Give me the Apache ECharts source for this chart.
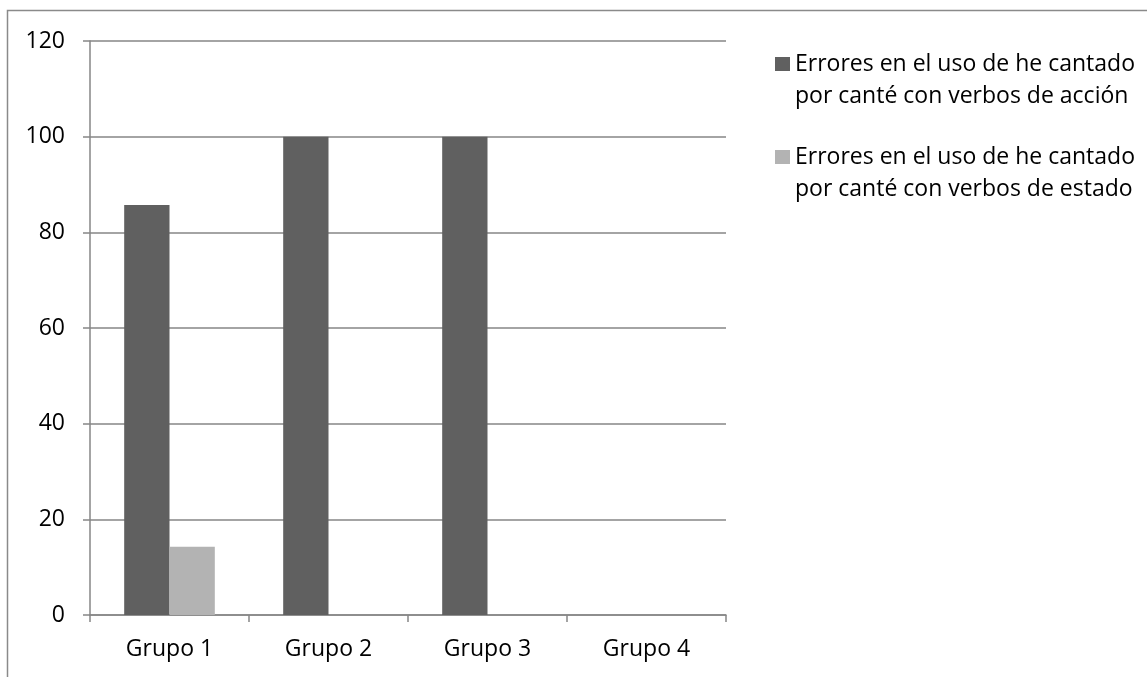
<!DOCTYPE html>
<html>
<head>
<meta charset="utf-8">
<script src="https://cdn.jsdelivr.net/npm/echarts@6/dist/echarts.min.js"></script>
<style>
  html, body { margin: 0; padding: 0; background: #fff; }
  #chart { width: 1147px; height: 677px; }
</style>
</head>
<body>
<div id="chart"></div>
<script>
// Percentage of errors per group
const categories = ['Grupo 1', 'Grupo 2', 'Grupo 3', 'Grupo 4'];
const accionValues = [85.71, 100, 100, 0];
const estadoValues = [14.29, 0, 0, 0];
const seriesNames = [
  'Errores en el uso de he cantado\npor canté con verbos de acción',
  'Errores en el uso de he cantado\npor canté con verbos de estado'
];
const yTicks = { min: 0, max: 120, interval: 20 };

const FONT = '"Open Sans", sans-serif';
const lineColor = '#868686';

const chart = echarts.init(document.getElementById('chart'));
chart.setOption({
  animation: false,
  backgroundColor: '#fff',
  textStyle: { fontFamily: FONT },
  graphic: [{
    type: 'rect',
    shape: { x: 7.5, y: 10.5, width: 1200, height: 700 },
    style: { fill: 'none', stroke: '#8a8a8a', lineWidth: 1.5 },
    silent: true,
    z: -1
  }],
  grid: { left: 90, top: 41, right: 421, bottom: 62 },
  legend: {
    orient: 'vertical',
    left: 770,
    top: 11,
    itemWidth: 15,
    itemHeight: 14,
    itemGap: -3,
    icon: 'rect',
    // a blank leading line keeps the swatch level with the first text line
    formatter: name => '\n' + name,
    textStyle: { fontFamily: FONT, fontSize: 23, color: '#000', lineHeight: 32 },
    data: seriesNames
  },
  xAxis: {
    type: 'category',
    data: categories,
    axisLine: { lineStyle: { color: lineColor, width: 1.5 } },
    axisTick: { show: true, length: 7, alignWithLabel: false, lineStyle: { color: lineColor, width: 1.5 } },
    axisLabel: { color: '#000', fontSize: 23, margin: 23, fontFamily: FONT }
  },
  yAxis: {
    type: 'value',
    min: yTicks.min,
    max: yTicks.max,
    interval: yTicks.interval,
    axisLine: { show: true, lineStyle: { color: lineColor, width: 1.5 } },
    axisTick: { show: true, length: 7, lineStyle: { color: lineColor, width: 1.5 } },
    splitLine: { lineStyle: { color: lineColor, width: 1.5 } },
    axisLabel: { color: '#000', fontSize: 23, margin: 25, fontFamily: FONT }
  },
  series: [
    {
      name: seriesNames[0],
      type: 'bar',
      data: accionValues,
      itemStyle: { color: '#606060' },
      barGap: '0%',
      barCategoryGap: '43%'
    },
    {
      name: seriesNames[1],
      type: 'bar',
      data: estadoValues,
      itemStyle: { color: '#b3b3b3' }
    }
  ]
});
</script>
</body>
</html>
